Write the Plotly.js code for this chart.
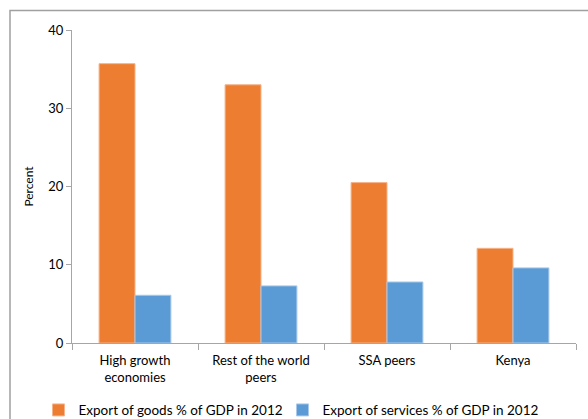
<!DOCTYPE html>
<html>
<head>
<meta charset="utf-8">
<script src="https://cdn.plot.ly/plotly-3.0.1.min.js"></script>
<style>html,body{margin:0;padding:0;background:#fff;}#chart{width:588px;height:419px;}</style>
</head>
<body>
<div id="chart"></div>
<script>
var categories = ["High growth<br>economies", "Rest of the world<br>peers", "SSA peers", "Kenya"];
var goodsValues = [35.7, 33.0, 20.5, 12.1];
var servicesValues = [6.1, 7.3, 7.8, 9.6];
var seriesNames = ["Export of goods % of GDP in 2012", "Export of services % of GDP in 2012"];
var yTicks = [0, 10, 20, 30, 40];

var font = {family: "Lato, 'Open Sans', sans-serif", size: 13, color: "#000"};
var L = 72, R = 12, T = 30, B = 76;
var PW = 588 - L - R, PH = 419 - T - B;

var traces = [
  {type: "bar", name: seriesNames[0], x: categories, y: goodsValues, legend: "legend",
   marker: {color: "#ED7D31", line: {color: "#f5b48a", width: 1}}},
  {type: "bar", name: seriesNames[1], x: categories, y: servicesValues, legend: "legend2",
   marker: {color: "#5B9BD5", line: {color: "#a9c9ea", width: 1}}}
];

var legendFont = {family: font.family, size: 13.5, color: "#000"};
var layout = {
  width: 588, height: 419,
  margin: {l: L, r: R, t: T, b: B, autoexpand: false},
  paper_bgcolor: "#fff", plot_bgcolor: "#fff",
  font: font,
  barmode: "group", bargap: 0.43, bargroupgap: 0,
  showlegend: true,
  legend: {orientation: "h", x: (38.5 - L) / PW, xanchor: "left", y: -0.165, yanchor: "top",
           font: legendFont, itemwidth: 30},
  legend2: {orientation: "h", x: (282.5 - L) / PW, xanchor: "left", y: -0.165, yanchor: "top",
           font: legendFont, itemwidth: 30},
  xaxis: {
    showline: true, linecolor: "#a6a6a6", linewidth: 1,
    ticks: "outside", tickson: "boundaries", ticklen: 6, tickcolor: "#a6a6a6",
    ticklabelstandoff: 5,
    showgrid: false, tickfont: {family: font.family, size: 13, color: "#000"}
  },
  yaxis: {
    range: [0, 40], tickvals: yTicks, ticktext: yTicks.map(String),
    showline: true, linecolor: "#a6a6a6", linewidth: 1,
    ticks: "outside", ticklen: 5, tickcolor: "#a6a6a6",
    showgrid: false, zeroline: false,
    tickfont: {family: font.family, size: 13, color: "#000"},
    title: {text: "Percent", font: {family: font.family, size: 12, color: "#000"}, standoff: 12}
  },
  shapes: [{
    type: "rect", xref: "paper", yref: "paper",
    x0: (10 - L) / PW, x1: (592 - L) / PW,
    y0: -(423 - (T + PH)) / PH, y1: 1 + (T - 10.5) / PH,
    line: {color: "#a0a0a0", width: 1.5}, fillcolor: "rgba(0,0,0,0)", layer: "below"
  }]
};

Plotly.newPlot("chart", traces, layout, {displayModeBar: false, staticPlot: true});
</script>
</body>
</html>
